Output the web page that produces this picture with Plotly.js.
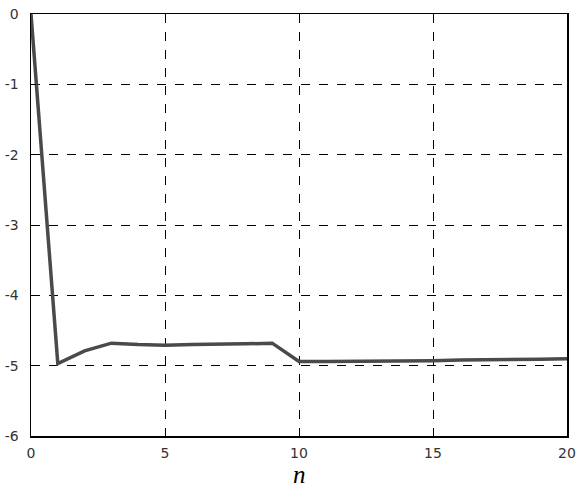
<!DOCTYPE html>
<html><head><meta charset="utf-8">
<script src="https://cdn.plot.ly/plotly-3.0.1.min.js"></script>
<style>html,body{margin:0;padding:0;background:#fff}#c{width:578px;height:487px}</style>
</head><body><div id="c"></div>
<script>
const nVals = [0,1,2,3,4,5,6,7,8,9,10,11,12,13,14,15,16,17,18,19,20];
const yVals = [0,-4.97,-4.79,-4.68,-4.70,-4.71,-4.70,-4.70,-4.69,-4.68,-4.94,-4.94,-4.94,-4.93,-4.93,-4.93,-4.92,-4.92,-4.91,-4.91,-4.90];
const xTicks = [0,5,10,15,20];
const yTicks = [0,-1,-2,-3,-4,-5,-6];
const xTitle = 'n';

const trace = {x:nVals, y:yVals, mode:'lines', line:{color:'#4a4a4a', width:3.5}, hoverinfo:'skip'};
const ax = {showline:true, linecolor:'#000', linewidth:1.5, mirror:true, ticks:'inside', ticklen:5, tickcolor:'#000',
  showgrid:true, gridcolor:'#000', griddash:'dash', gridwidth:1, zeroline:false,
  tickfont:{family:'DejaVu Sans', size:14, color:'#333'}};
const layout = {
  width:578, height:487, margin:{l:31, r:11, t:14, b:51},
  paper_bgcolor:'#fff', plot_bgcolor:'#fff', showlegend:false,
  xaxis:Object.assign({}, ax, {range:[0,20], tickvals:xTicks, ticktext:xTicks.map(String), ticklabelstandoff:4}),
  yaxis:Object.assign({}, ax, {range:[-6,0], tickvals:yTicks, ticktext:yTicks.map(String), ticklabelstandoff:8}),
  annotations:[{text:'<i>'+xTitle+'</i>', xref:'x', x:10, yref:'paper', y:0, yanchor:'middle', xanchor:'center',
    yshift:-38, showarrow:false, font:{family:'Liberation Serif', size:25, color:'#000'}}]
};
Plotly.newPlot('c',[trace],layout,{staticPlot:true});
</script></body></html>
